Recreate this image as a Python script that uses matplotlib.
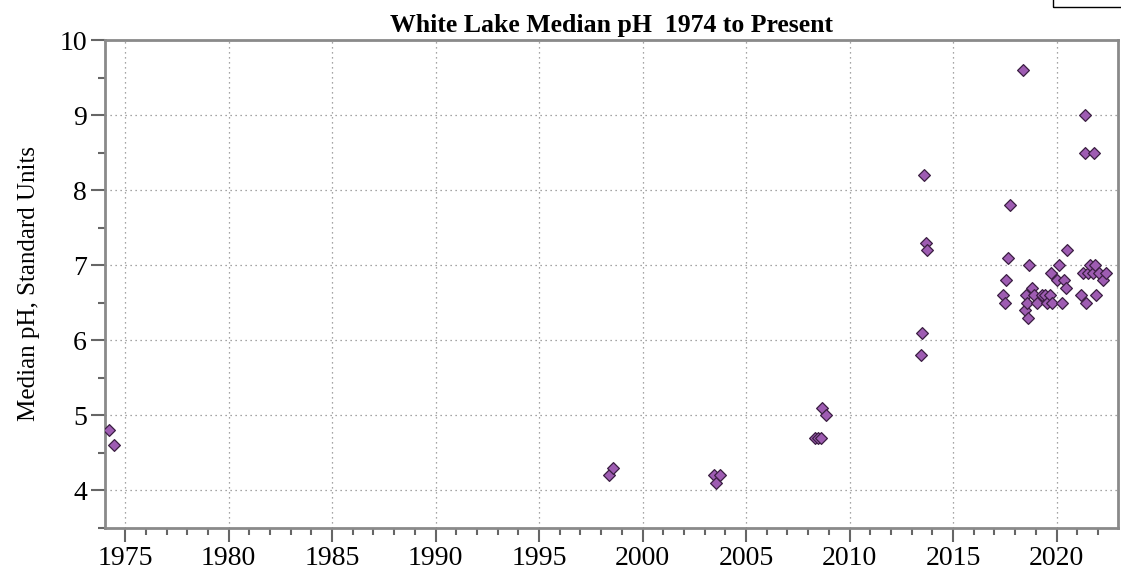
import matplotlib
matplotlib.use("Agg")
import matplotlib.pyplot as plt
from matplotlib.patches import Rectangle
from matplotlib.ticker import MultipleLocator

# sample dates (decimal year) and median pH readings
years = [
    1974.23, 1974.47,
    1998.40, 1998.55,
    2003.45, 2003.55, 2003.74,
    2008.35, 2008.50, 2008.62, 2008.65, 2008.86,
    2013.45, 2013.50, 2013.60, 2013.70, 2013.75,
    2017.43, 2017.51, 2017.58, 2017.67, 2017.75,
    2018.40, 2018.48, 2018.52, 2018.56, 2018.64, 2018.69, 2018.84, 2018.93,
    2019.04, 2019.28, 2019.44, 2019.52, 2019.69, 2019.73, 2019.76,
    2020.00, 2020.14, 2020.25, 2020.38, 2020.46, 2020.52,
    2021.20, 2021.27, 2021.38, 2021.38, 2021.43, 2021.54, 2021.60, 2021.75,
    2021.81, 2021.86, 2021.93, 2022.07, 2022.23, 2022.39,
]
ph = [
    4.8, 4.6,
    4.2, 4.3,
    4.2, 4.1, 4.2,
    4.7, 4.7, 4.7, 5.1, 5.0,
    5.8, 6.1, 8.2, 7.3, 7.2,
    6.6, 6.5, 6.8, 7.1, 7.8,
    9.6, 6.4, 6.6, 6.5, 6.3, 7.0, 6.7, 6.6,
    6.5, 6.6, 6.6, 6.5, 6.6, 6.9, 6.5,
    6.8, 7.0, 6.5, 6.8, 6.7, 7.2,
    6.6, 6.9, 9.0, 8.5, 6.5, 6.9, 7.0, 6.9,
    8.5, 7.0, 6.6, 6.9, 6.8, 6.9,
]

plt.rcParams["font.family"] = ["Liberation Serif", "DejaVu Serif"]

fig = plt.figure(figsize=(11.21, 5.69), dpi=100)
ax = fig.add_axes([0.0937, 0.0721, 0.9036, 0.8576])

ax.scatter(years, ph, marker="D", s=36, facecolor="#9e5cb2",
           edgecolor="#3b1f42", linewidth=0.9, zorder=3)

ax.set_xlim(1974.03, 2022.97)
ax.set_ylim(3.5, 10)
ax.xaxis.set_major_locator(MultipleLocator(5))
ax.xaxis.set_minor_locator(MultipleLocator(1))
ax.yaxis.set_major_locator(MultipleLocator(1))
ax.yaxis.set_minor_locator(MultipleLocator(0.5))

ax.grid(True, which="major", linestyle=(0, (1, 3)), color="#888888", linewidth=0.9)

for sp in ax.spines.values():
    sp.set_color("#8a8a8a")
    sp.set_linewidth(2)

ax.tick_params(axis="both", which="major", direction="out", length=10,
               width=1.5, color="#666666", labelsize=20, pad=3)
ax.tick_params(axis="both", which="minor", direction="out", length=5,
               width=1.5, color="#666666")

ax.set_ylabel("Median pH, Standard Units", fontsize=18, labelpad=14)
ax.set_title("White Lake Median pH  1974 to Present", fontsize=18.5,
             fontweight="bold", pad=6)

# clipped legend box peeking in at the top right
fig.patches.append(Rectangle((1053 / 1121, 1 - 7 / 569), 0.1, 0.05,
                             transform=fig.transFigure, fill=False,
                             edgecolor="black", linewidth=1))

fig.savefig("out.png", dpi=100)
